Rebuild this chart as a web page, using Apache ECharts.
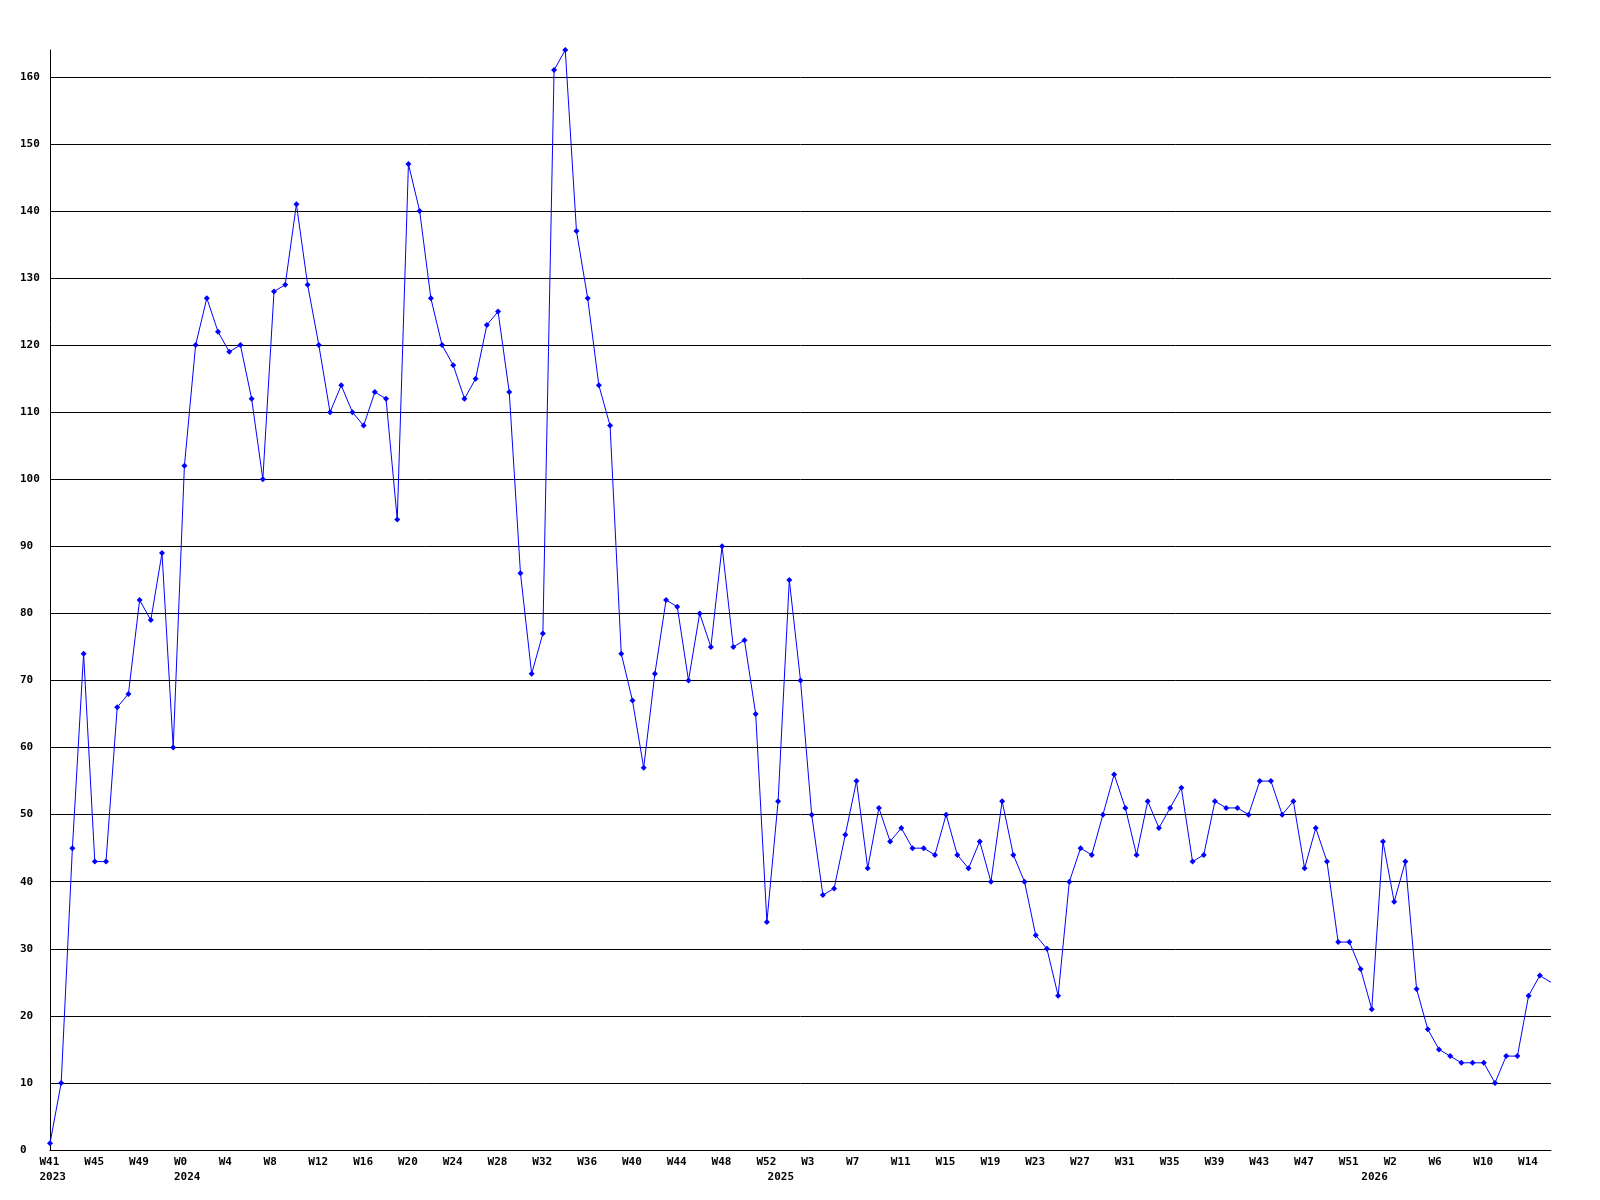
<!DOCTYPE html>
<html>
<head>
<meta charset="utf-8">
<script src="https://cdn.jsdelivr.net/npm/echarts@6/dist/echarts.min.js"></script>
<style>
html,body{margin:0;padding:0;background:#fff;}
#chart{width:1600px;height:1200px;}
</style>
</head>
<body>
<div id="chart"></div>
<script>
// Week ranges [year, firstWeek, lastWeek]
const weekRanges = [[2023, 41, 52], [2024, 0, 52], [2025, 0, 52], [2026, 0, 16]];

// Weekly values, in order from 2023 W41
const values2023 = [1, 10, 45, 74, 43, 43, 66, 68, 82, 79, 89, 60];
const values2024 = [102, 120, 127, 122, 119, 120, 112, 100, 128, 129, 141, 129, 120, 110, 114, 110, 108, 113, 112, 94,
  147, 140, 127, 120, 117, 112, 115, 123, 125, 113, 86, 71, 77, 161, 164, 137, 127, 114, 108, 74,
  67, 57, 71, 82, 81, 70, 80, 75, 90, 75, 76, 65, 34];
const values2025 = [52, 85, 70, 50, 38, 39, 47, 55, 42, 51, 46, 48, 45, 45, 44, 50, 44, 42, 46, 40,
  52, 44, 40, 32, 30, 23, 40, 45, 44, 50, 56, 51, 44, 52, 48, 51, 54, 43, 44, 52,
  51, 51, 50, 55, 55, 50, 52, 42, 48, 43, 31, 31, 27];
const values2026 = [21, 46, 37, 43, 24, 18, 15, 14, 13, 13, 13, 10, 14, 14, 23, 26, 25];

const yTicks = { min: 0, max: 164, interval: 10 };

// Build categories
const categories = [];
const yearStartIndex = {};
weekRanges.forEach(([y, a, b]) => {
  yearStartIndex[categories.length] = String(y);
  for (let w = a; w <= b; w++) categories.push('W' + w + ' ' + y);
});
const values = [].concat(values2023, values2024, values2025, values2026);

const FONT = 'DejaVu Sans Mono';
const chart = echarts.init(document.getElementById('chart'), null, { renderer: 'canvas' });

const seriesData = values.map((v, i) => i === values.length - 1 ? { value: v, symbol: 'none' } : v);

chart.setOption({
  animation: false,
  backgroundColor: '#ffffff',
  grid: { left: 50, right: 49, top: 50, bottom: 50, containLabel: false },
  xAxis: {
    type: 'category',
    data: categories,
    boundaryGap: false,
    axisLine: { show: true, lineStyle: { color: '#000', width: 1 } },
    axisTick: { show: false },
    splitLine: { show: false },
    axisLabel: {
      interval: (i) => i % 4 === 0 || yearStartIndex[i] !== undefined,
      margin: 5,
      align: 'center',
      verticalAlign: 'top',
      formatter: (val, i) => {
        const wk = i % 4 === 0 ? val.split(' ')[0] : ' ';
        const yr = yearStartIndex[i];
        return '{w|' + wk + '}' + (yr ? '\n{w|' + yr + '}' : '');
      },
      rich: {
        w: { width: 21, align: 'left', fontFamily: FONT, fontWeight: 'bold', fontSize: 11, lineHeight: 15, color: '#000' }
      }
    }
  },
  yAxis: {
    type: 'value',
    min: yTicks.min,
    max: yTicks.max,
    interval: yTicks.interval,
    axisLine: { show: true, lineStyle: { color: '#000', width: 1 } },
    axisTick: { show: false },
    splitLine: { show: true, showMaxLine: false, lineStyle: { color: '#000', width: 1 } },
    axisLabel: {
      showMaxLabel: false,
      margin: 30,
      align: 'left',
      fontFamily: FONT,
      fontWeight: 'bold',
      fontSize: 11,
      color: '#000'
    }
  },
  series: [{
    type: 'line',
    data: seriesData,
    symbol: 'diamond',
    symbolSize: 6,
    showAllSymbol: true,
    lineStyle: { color: '#0000ff', width: 1 },
    itemStyle: { color: '#0000ff' },
    emphasis: { disabled: true }
  }]
});
</script>
</body>
</html>
